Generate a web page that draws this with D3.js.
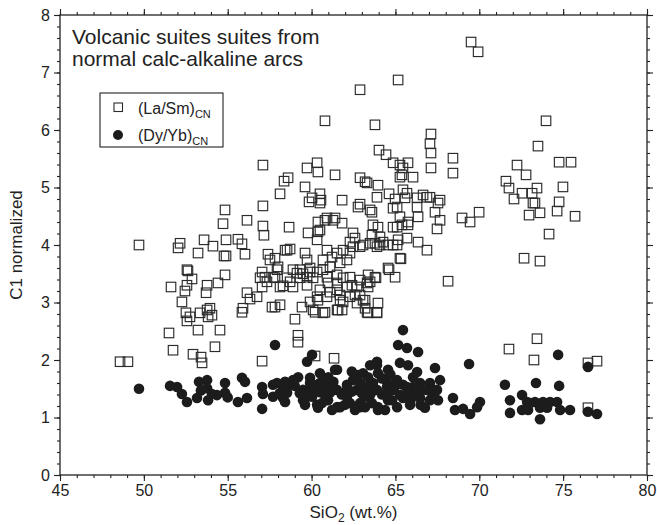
<!DOCTYPE html>
<html>
<head>
<meta charset="utf-8">
<script src="https://cdn.jsdelivr.net/npm/d3@7/dist/d3.min.js"></script>
<style>
  body { margin: 0; background: #fff; }
  text { font-family: "Liberation Sans", Arial, Helvetica, sans-serif; fill: #222; }
</style>
</head>
<body>
<div id="chart"></div>
<script>
// chart size and plot box
var width = 657,
    height = 525;
var margin = {top: 15, right: 10, bottom: 50, left: 60};

// tick values
var xTicks = [45, 50, 55, 60, 65, 70, 75, 80];
var yTicks = [0, 1, 2, 3, 4, 5, 6, 7, 8];

// (La/Sm)CN : [SiO2, value]
var laSm = [
  [48.58,1.97],[49.05,1.97],[49.71,4.00],[51.50,2.47],[51.74,2.17],[51.62,3.27],[52.04,3.95],[52.16,4.03],
  [52.27,3.01],[52.45,3.20],[52.57,3.30],[52.57,3.57],[52.63,3.55],[52.87,3.41],[52.51,2.82],[52.75,2.75],
  [52.57,2.68],[52.93,2.10],[53.23,3.86],[53.23,2.52],[53.35,2.82],[53.41,2.05],[53.47,1.95],[53.59,4.09],
  [53.77,3.30],[53.71,3.17],[53.77,2.87],[53.83,2.75],[53.94,2.90],[54.12,3.98],[54.06,2.78],[54.24,2.23],
  [54.42,3.34],[54.54,2.52],[54.72,4.37],[54.84,4.61],[54.78,3.81],[54.90,3.81],[54.84,3.48],[54.90,4.09],
  [55.61,4.10],[55.85,4.02],[56.03,3.84],[55.91,2.90],[55.85,2.83],[56.15,4.43],[56.15,3.17],[56.33,3.06],
  [56.75,3.10],[57.05,3.27],[57.05,3.53],[57.22,3.44],[57.05,1.98],[57.10,5.39],[57.10,4.68],[57.10,4.33],
  [57.16,4.17],[57.40,3.84],[57.52,3.74],[57.82,3.77],[57.64,2.92],[57.82,2.92],[58.12,2.96],[57.94,3.57],
  [57.82,3.43],[58.12,4.89],[58.36,5.11],[58.60,5.17],[58.54,3.91],[58.72,3.93],[58.66,4.31],[58.54,3.43],
  [58.72,3.36],[58.89,3.27],[58.30,3.29],[59.01,2.71],[59.19,2.43],[59.19,2.31],[59.31,3.57],[59.49,3.50],
  [59.91,3.53],[59.43,2.92],[59.61,5.01],[59.73,5.34],[59.61,3.86],[59.73,3.74],[59.79,4.21],[59.85,4.75],
  [60.03,4.82],[60.09,2.87],[60.21,2.07],[60.33,5.43],[60.38,5.27],[60.38,4.23],[60.50,4.89],[60.56,4.78],
  [60.50,4.73],[60.68,2.82],[60.80,4.43],[60.80,6.16],[61.34,2.03],[61.40,5.22],[61.82,4.78],
  [60.38,4.40],[60.92,4.47],[61.40,4.47],[61.82,4.38],[60.50,4.26],[60.33,4.09],[62.47,4.21],[62.59,4.12],
  [62.29,4.05],[63.66,4.35],[63.96,4.31],[64.08,4.14],[64.26,4.05],[63.49,4.03],[62.89,3.97],[63.07,4.00],
  [63.90,3.97],[64.56,4.00],[65.10,4.00],[65.69,4.12],[66.35,4.05],[66.88,3.91],[65.27,3.77],[64.56,3.60],
  [64.98,3.44],[63.78,3.44],[63.49,3.36],[63.37,3.27],[60.92,3.91],[61.22,3.79],[60.68,3.74],[61.52,3.86],
  [61.88,3.91],[62.29,3.86],[62.47,3.97],[62.11,3.74],[61.70,3.69],[61.10,3.62],[60.68,3.57],[60.33,3.53],
  [59.91,3.60],[59.13,3.51],[58.89,3.57],[59.73,3.44],[60.09,3.43],[59.31,3.43],[60.92,3.44],[61.52,3.48],
  [61.88,3.43],[62.29,3.44],[62.89,3.39],[62.71,3.27],[63.31,3.34],[62.11,3.27],[61.52,3.34],[60.98,3.34],
  [61.10,3.18],[60.50,3.22],[60.33,3.10],[61.70,3.13],[62.29,3.10],[62.89,3.13],[58.42,3.91],[58.00,3.62],
  [57.70,3.44],[57.34,3.36],[56.93,3.43],[58.12,3.27],[59.73,3.30],
  [62.89,5.17],[63.19,5.10],[63.31,5.08],[63.96,5.04],[63.90,4.83],[62.89,4.71],[62.77,4.66],[63.60,4.57],
  [63.49,4.61],[64.02,5.65],[64.44,5.57],[64.86,5.43],[65.27,5.39],[65.75,5.43],[65.45,5.34],[65.27,5.18],
  [65.39,5.22],[66.05,5.18],[65.45,4.96],[65.69,4.90],[65.57,4.82],[64.86,4.64],[65.10,4.66],[66.29,4.82],
  [66.29,4.66],[66.65,4.87],[66.88,4.83],[66.35,4.49],[65.27,4.49],[65.39,4.35],[65.10,4.31],[65.75,4.35],
  [59.91,3.01],[60.21,2.83],[60.38,3.04],[60.80,2.83],[60.92,3.10],[61.52,2.87],[61.70,3.04],[61.82,2.87],
  [62.59,3.13],[62.71,2.99],[63.19,3.04],[63.31,2.83],[63.90,2.83],[63.96,2.99],
  [67.12,5.60],[68.43,5.51],[67.12,5.34],[68.43,5.25],[64.62,4.89],[64.98,4.80],[67.06,4.83],[67.54,4.73],
  [67.66,4.78],[67.36,4.57],[67.66,4.43],[67.48,4.28],[68.97,4.47],[69.45,4.40],[69.99,4.57],[61.28,4.43],
  [64.86,4.31],[65.75,4.40],[65.16,4.09],[64.86,4.00],[64.08,4.00],[63.60,4.17],[63.78,4.03],[65.33,3.76],
  [64.62,3.57],[63.84,3.43],[63.37,3.48],[62.41,3.30],[61.52,3.22],[61.88,3.01],[61.58,2.87],[63.07,3.04],
  [63.19,2.90],[63.90,2.82],[63.37,2.82],[68.14,3.37],[67.12,5.93],[67.06,5.76],[65.16,6.87],[62.89,6.70],
  [63.78,6.09],[69.51,7.53],[69.93,7.36],
  [72.25,5.39],[72.79,5.22],[71.59,5.11],[71.77,4.99],[72.07,4.80],[72.55,4.90],[73.15,4.90],[73.44,4.99],
  [73.20,4.73],[73.32,4.73],[72.97,4.52],[73.62,4.56],[74.76,5.44],[75.47,5.44],[74.99,5.01],[74.76,4.75],
  [74.64,4.59],[75.71,4.50],[74.16,4.19],[72.67,3.77],[73.62,3.72],[73.98,6.16],[73.50,5.72],[73.44,2.37],
  [71.77,2.19],[73.26,2.00],[77.02,1.98],[76.48,1.95],[76.48,1.17]
];

// (Dy/Yb)CN : [SiO2, value]
var dyYb = [
  [49.71,1.50],[51.56,1.55],[51.98,1.53],[52.27,1.41],[52.57,1.27],[53.17,1.34],[53.29,1.62],[53.77,1.65],
  [53.77,1.51],[54.06,1.41],[53.83,1.30],[54.36,1.39],[54.84,1.60],[54.84,1.43],[55.85,1.69],[56.03,1.62],
  [55.61,1.27],[56.15,1.34],[57.05,1.53],[57.10,1.41],[57.05,1.15],[57.70,1.57],[57.70,1.36],[57.94,1.60],
  [58.42,1.62],[58.72,1.57],[58.89,1.65],[58.30,1.34],[58.54,1.43],[58.42,1.27],[59.49,1.48],[59.49,1.30],
  [59.73,1.36],[59.91,1.69],[60.03,1.36],[60.33,1.57],[60.33,1.22],[60.50,1.77],[60.62,1.25],[60.68,1.43],
  [60.50,1.60],[60.98,1.30],[61.28,1.53],[61.52,1.83],[61.70,1.18],[62.11,1.36],[62.47,1.65],[62.77,1.74],
  [62.89,1.25],[63.31,1.48],[63.66,1.60],[63.90,1.91],[63.96,1.77],[57.82,2.26],[60.03,2.09],[59.73,1.97],
  [65.45,2.52],[65.16,2.26],[65.69,2.21],[66.35,2.14],[63.90,1.97],[63.49,1.91],[64.56,1.83],[65.27,1.95],
  [65.75,1.91],[66.29,1.79],[61.40,1.83],[60.80,1.65],[63.07,1.77],[63.37,1.70],[69.39,1.93],[74.70,2.09],
  [76.48,1.88],[67.36,1.86],[66.05,1.70],[64.50,1.62],[65.10,1.65],[65.45,1.57],[66.47,1.60],[67.06,1.53],
  [67.66,1.65],[67.48,1.48],[67.18,1.34],[67.54,1.30],[63.49,1.39],[63.96,1.18],[64.50,1.36],[65.10,1.18],
  [65.45,1.34],[66.05,1.39],[66.47,1.44],[68.43,1.34],[68.55,1.13],[69.03,1.15],[69.45,1.06],[69.87,1.18],
  [70.04,1.27],[71.53,1.57],[73.38,1.60],[74.76,1.55],[71.83,1.30],[72.55,1.39],[72.85,1.27],[73.32,1.27],
  [73.62,1.17],[73.80,1.27],[74.22,1.27],[74.64,1.27],[74.82,1.13],[75.41,1.13],[72.55,1.13],[72.91,1.13],
  [71.83,1.08],[73.62,0.97],[74.04,1.17],[73.03,1.25],[76.48,1.10],[77.02,1.06],[61.10,1.43],[61.52,1.18],
  [62.11,1.48],[62.89,1.18],[63.31,1.36],[63.90,1.48],[63.96,1.13],[64.50,1.53],[65.27,1.39],[66.05,1.53],
  [66.47,1.34],[67.06,1.60],[67.06,1.30],[66.88,1.48],[64.56,1.30],[62.29,1.25],[63.60,1.25],
  [58.30,1.48],[59.91,1.60],[60.50,1.44],[60.92,1.53],[61.52,1.48],[62.11,1.57],[62.71,1.48],[63.31,1.53],
  [64.86,1.48],[65.69,1.53],[66.29,1.48],[59.61,1.22],[60.38,1.17],[61.22,1.13],[61.99,1.22],[62.59,1.13],
  [63.19,1.18],[64.38,1.13],[65.87,1.22],[66.76,1.17],
  [59.00,1.55],[59.30,1.42],[60.00,1.50],[60.80,1.40],[61.30,1.62],[61.80,1.40],[62.40,1.45],[62.90,1.60],
  [63.00,1.42],[63.60,1.45],[64.20,1.40],[64.20,1.68],[64.80,1.30],[65.00,1.55],[65.60,1.40],[65.90,1.30],
  [66.50,1.22],[67.30,1.40],[59.20,1.70],[61.00,1.70],[62.40,1.80],[64.70,1.75],[58.10,1.42],[55.00,1.35],
  [53.40,1.47]
];

var x = d3.scaleLinear().domain([45, 80]).range([margin.left, width - margin.right]);
var y = d3.scaleLinear().domain([0, 8]).range([height - margin.bottom, margin.top]);

var svg = d3.select("#chart").append("svg")
    .attr("width", width)
    .attr("height", height);

var x0 = x.range()[0], x1 = x.range()[1], y0 = y.range()[0], y1 = y.range()[1];

// minor ticks every 1 wt.% and every 0.2
var xMinor = d3.range(45, 80.01, 1);
var yMinor = d3.range(0, 8.01, 0.2);

function axisStyle(g) {
  g.select(".domain").remove();
  g.selectAll("line").attr("stroke", "#222").attr("stroke-width", 1.1);
  g.selectAll("text").style("font-size", "16px").attr("fill", "#222");
}

// bottom
svg.append("g").attr("transform", "translate(0," + y0 + ")")
   .call(d3.axisBottom(x).tickValues(xMinor).tickSize(3).tickFormat("")).call(axisStyle);
svg.append("g").attr("transform", "translate(0," + y0 + ")")
   .call(d3.axisBottom(x).tickValues(xTicks).tickSize(6).tickPadding(4)).call(axisStyle);
// top
svg.append("g").attr("transform", "translate(0," + y1 + ")")
   .call(d3.axisTop(x).tickValues(xMinor).tickSize(3).tickFormat("")).call(axisStyle);
svg.append("g").attr("transform", "translate(0," + y1 + ")")
   .call(d3.axisTop(x).tickValues(xTicks).tickSize(6).tickFormat("")).call(axisStyle);
// left
svg.append("g").attr("transform", "translate(" + x0 + ",0)")
   .call(d3.axisLeft(y).tickValues(yMinor).tickSize(3).tickFormat("")).call(axisStyle);
svg.append("g").attr("transform", "translate(" + x0 + ",0)")
   .call(d3.axisLeft(y).tickValues(yTicks).tickSize(6).tickPadding(4)).call(axisStyle);
// right
svg.append("g").attr("transform", "translate(" + x1 + ",0)")
   .call(d3.axisRight(y).tickValues(yMinor).tickSize(3).tickFormat("")).call(axisStyle);
svg.append("g").attr("transform", "translate(" + x1 + ",0)")
   .call(d3.axisRight(y).tickValues(yTicks).tickSize(6).tickFormat("")).call(axisStyle);

// frame
svg.append("rect")
   .attr("x", x0).attr("y", y1)
   .attr("width", x1 - x0).attr("height", y0 - y1)
   .attr("fill", "none").attr("stroke", "#222").attr("stroke-width", 1.3);

// squares
var sq = 9.5;
svg.append("g").selectAll("rect")
   .data(laSm)
   .enter()
   .append("rect")
   .attr("x", function(d) { return x(d[0]) - sq / 2; })
   .attr("y", function(d) { return y(d[1]) - sq / 2; })
   .attr("width", sq).attr("height", sq)
   .attr("fill", "none")
   .attr("stroke", "#2b2b2b")
   .attr("stroke-width", 1.15);

// circles
svg.append("g").selectAll("circle")
   .data(dyYb)
   .enter()
   .append("circle")
   .attr("cx", function(d) { return x(d[0]); })
   .attr("cy", function(d) { return y(d[1]); })
   .attr("r", 5.3)
   .attr("fill", "#1c1c1c");

// title inside plot
var title = svg.append("text").style("font-size", "21px");
title.append("tspan").attr("x", 72).attr("y", 44).text("Volcanic suites suites from");
title.append("tspan").attr("x", 72).attr("y", 66).text("normal calc-alkaline arcs");

// legend
var lg = svg.append("g");
lg.append("rect").attr("x", 100).attr("y", 93).attr("width", 123).attr("height", 54)
  .attr("fill", "#fff").attr("stroke", "#222").attr("stroke-width", 1.1);
lg.append("rect").attr("x", 114).attr("y", 103).attr("width", 8.5).attr("height", 8.5)
  .attr("fill", "none").attr("stroke", "#2b2b2b").attr("stroke-width", 1.1);
lg.append("circle").attr("cx", 118).attr("cy", 135).attr("r", 5).attr("fill", "#1c1c1c");
var t1 = lg.append("text").attr("x", 138).attr("y", 114).style("font-size", "16px");
t1.append("tspan").text("(La/Sm)");
t1.append("tspan").attr("dy", 4).style("font-size", "11px").text("CN");
var t2 = lg.append("text").attr("x", 138).attr("y", 141).style("font-size", "16px");
t2.append("tspan").text("(Dy/Yb)");
t2.append("tspan").attr("dy", 4).style("font-size", "11px").text("CN");

// axis titles
var xt = svg.append("text").attr("x", (x0 + x1) / 2).attr("y", 518)
  .attr("text-anchor", "middle").style("font-size", "17px");
xt.append("tspan").text("SiO");
xt.append("tspan").attr("dy", 4).style("font-size", "12px").text("2");
xt.append("tspan").attr("dy", -4).text(" (wt.%)");

svg.append("text")
  .attr("transform", "translate(22," + ((y0 + y1) / 2) + ") rotate(-90)")
  .attr("text-anchor", "middle").style("font-size", "17px")
  .text("C1 normalized");
</script>
</body>
</html>
